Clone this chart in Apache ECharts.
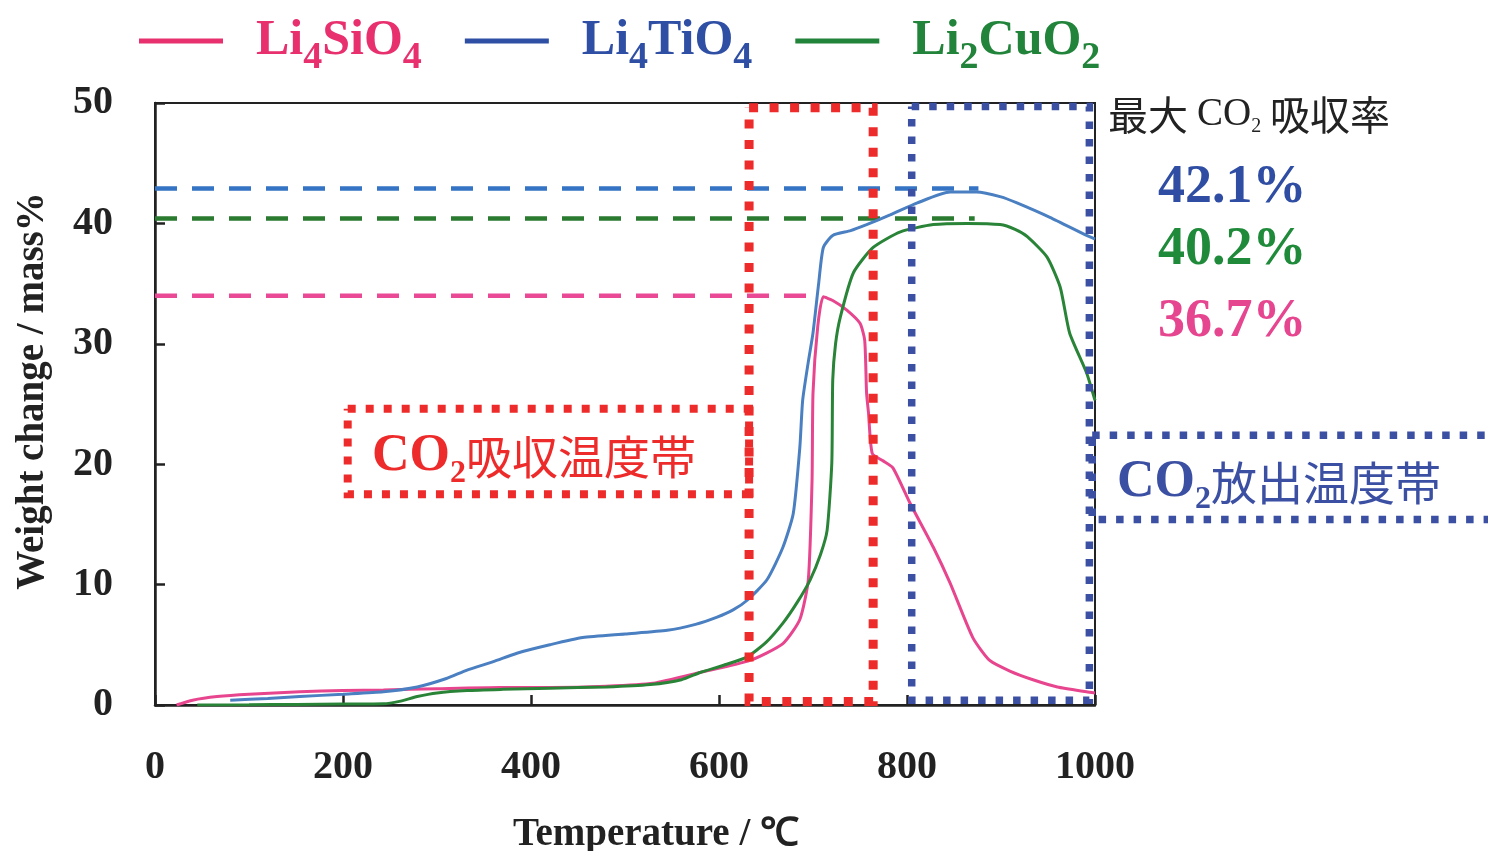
<!DOCTYPE html>
<html>
<head>
<meta charset="utf-8">
<script src="https://cdn.jsdelivr.net/npm/echarts@6/dist/echarts.min.js"></script>
<style>
html,body{margin:0;padding:0;background:#fff;}
#c{width:1488px;height:851px;}
</style>
</head>
<body>
<div id="c"></div>
<script>
// ---- data (temperature °C, weight change mass%) ----
const siT = [23, 40, 66, 100, 154, 200, 243, 300, 367, 420, 480, 530, 580, 633, 668, 686, 695, 699, 700, 705, 711, 721, 736, 750, 755, 757, 759, 763, 774, 785, 803, 828, 846, 870, 888, 910, 934, 960, 991, 1000];
const siW = [0, 0.4, 0.7, 0.9, 1.1, 1.2, 1.25, 1.35, 1.45, 1.45, 1.55, 1.8, 2.7, 3.7, 5.1, 7.1, 10.4, 18.7, 25.9, 31.4, 33.9, 33.6, 32.8, 31.7, 30.3, 25.9, 24.3, 20.9, 20.3, 19.7, 16.8, 13.1, 10.1, 5.6, 3.7, 2.8, 2.1, 1.5, 1.1, 1.0];

const tiT = [80, 120, 154, 200, 243, 279, 310, 332, 360, 385, 420, 455, 500, 545, 575, 598, 615, 630, 651, 668, 679, 686, 689, 695, 700, 706, 711, 721, 740, 757, 782, 811, 846, 874, 900, 917, 952, 991, 1000];
const tiW = [0.4, 0.55, 0.7, 0.9, 1.1, 1.5, 2.2, 2.9, 3.6, 4.3, 5.0, 5.6, 5.9, 6.2, 6.7, 7.3, 7.9, 8.7, 10.4, 13.1, 15.9, 21.4, 25.3, 28.5, 30.9, 35.0, 38.0, 39.0, 39.4, 39.9, 40.7, 41.7, 42.6, 42.6, 42.2, 41.7, 40.5, 39.0, 38.7];

const cuT = [45, 100, 150, 200, 243, 260, 279, 300, 332, 370, 420, 480, 527, 560, 580, 605, 630, 650, 668, 683, 697, 708, 715, 720, 721, 724, 729, 743, 764, 793, 828, 864, 899, 915, 928, 949, 963, 973, 991, 1000];
const cuW = [0, 0.02, 0.05, 0.08, 0.1, 0.3, 0.7, 1.0, 1.2, 1.3, 1.4, 1.5, 1.7, 2.1, 2.7, 3.3, 4.0, 5.2, 6.8, 8.5, 10.4, 12.5, 14.5, 20.1, 27.0, 30.0, 32.2, 35.9, 38.0, 39.3, 39.9, 40.0, 39.9, 39.5, 38.9, 37.2, 34.7, 30.9, 27.6, 25.3];

// maximum-level reference lines: [start T, end T, level]
const refTi = [0, 876, 42.9];
const refCu = [0, 872, 40.4];
const refSi = [0, 706, 34.0];

// temperature bands (T from, T to, W from, W to)
const absorbBand = [632, 764, 0.3, 49.6];
const absorbLabelBox = [205, 632, 17.5, 24.6];
const releaseBand = [805, 994, 0.4, 49.7];
const releaseLabelBox = [997, 1425, 15.4, 22.4];

const xTicks = [0, 200, 400, 600, 800, 1000];
const yTicks = [0, 10, 20, 30, 40, 50];

const seriesNames = ['Li4SiO4', 'Li4TiO4', 'Li2CuO2'];
const maxRates = ['42.1%', '40.2%', '36.7%'];

function pairs(t, w) { return t.map((v, i) => [v, w[i]]); }
function rect(b) { return [[b[0], b[3]], [b[1], b[3]], [b[1], b[2]], [b[0], b[2]], [b[0], b[3]]]; }
function ref(r) { return [[r[0], r[2]], [r[1], r[2]]]; }

const SERIF = '"Liberation Serif","Times New Roman",serif';
const CJK = '"Noto Sans CJK JP","Noto Sans CJK SC",sans-serif';

const C = {
  siLine: '#e8458f', tiLine: '#4a7fc1', cuLine: '#2a8438',
  siDash: '#ea4a95', tiDash: '#3574c4', cuDash: '#2a7a30',
  siLeg: '#e8306e', tiLeg: '#2f4fa5', cuLeg: '#22843a',
  red: '#ee2b2b', blueBox: '#3b4fa3'
};

function legRich() {
  const r = {};
  [['p', C.siLeg], ['b', C.tiLeg], ['g', C.cuLeg]].forEach(([k, col]) => {
    r['a' + k] = { fontFamily: SERIF, fontWeight: 'bold', fontSize: 50, lineHeight: 58, color: col };
    r['s' + k] = { fontFamily: SERIF, fontWeight: 'bold', fontSize: 38, lineHeight: 20, padding: [34, 0, 0, 0], color: col };
  });
  r.gap = { width: 28, fontSize: 10 };
  return r;
}

const legendParts = {
  'Li4SiO4': ['p', [['a', 'Li'], ['s', '4'], ['a', 'SiO'], ['s', '4']]],
  'Li4TiO4': ['b', [['a', 'Li'], ['s', '4'], ['a', 'TiO'], ['s', '4']]],
  'Li2CuO2': ['g', [['a', 'Li'], ['s', '2'], ['a', 'CuO'], ['s', '2']]]
};

const chart = echarts.init(document.getElementById('c'), null, { renderer: 'canvas' });

function curve(name, data, color) {
  return { name, type: 'line', data, showSymbol: false, symbol: 'none', smooth: 0.2,
    lineStyle: { color, width: 3 }, itemStyle: { color }, z: 3, animation: false };
}
function dash(name, data, color) {
  return { name, type: 'line', data, showSymbol: false, symbol: 'none',
    lineStyle: { color, width: 4.5, type: [22, 15] }, z: 2, animation: false, silent: true };
}
function box(name, data, color, w, gap) {
  return { name, type: 'line', data, showSymbol: false, symbol: 'none', clip: false,
    lineStyle: { color, width: w, type: [w, gap], cap: 'butt', join: 'miter' }, z: 4, animation: false, silent: true };
}

function coRich(color) {
  return {
    c: { fontFamily: SERIF, fontWeight: 'bold', fontSize: 52, lineHeight: 60, fill: color },
    s: { fontFamily: SERIF, fontWeight: 'bold', fontSize: 32, lineHeight: 20, padding: [34, 0, 0, 0], fill: color },
    k: { fontFamily: CJK, fontSize: 46, lineHeight: 60, fill: color }
  };
}

const option = {
  backgroundColor: '#fff',
  animation: false,
  grid: { left: 155, right: 393, top: 103, bottom: 146, containLabel: false, outerBoundsMode: 'none',
    show: true, borderColor: '#222', borderWidth: 2, backgroundColor: 'transparent' },
  legend: {
    left: 134, top: 0, itemWidth: 84, itemHeight: 5, itemGap: 43, icon: 'rect', selectedMode: false,
    data: seriesNames.map((n, i) => ({ name: n, itemStyle: { color: [C.siLeg, C.tiLeg, C.cuLeg][i] } })),
    formatter: function (name) {
      const p = legendParts[name];
      return '{gap| }' + p[1].map(t => '{' + t[0] + p[0] + '|' + t[1] + '}').join('');
    },
    textStyle: { rich: legRich(), fontFamily: SERIF, fontSize: 50 }
  },
  xAxis: {
    type: 'value', min: xTicks[0], max: xTicks[xTicks.length - 1], interval: 200,
    name: 'Temperature / ℃', nameLocation: 'middle', nameGap: 110,
    nameTextStyle: { fontFamily: SERIF, fontWeight: 'bold', fontSize: 39, color: '#222', padding: [0, 0, 0, 62] },
    axisLine: { show: true, lineStyle: { color: '#222', width: 2.5 } },
    axisTick: { show: true, inside: true, length: 10, lineStyle: { color: '#222', width: 2.5 } },
    axisLabel: { fontFamily: SERIF, fontWeight: 'bold', fontSize: 40, color: '#222', margin: 43, formatter: v => String(v) },
    splitLine: { show: false }
  },
  yAxis: {
    type: 'value', min: yTicks[0], max: yTicks[yTicks.length - 1], interval: 10,
    name: 'Weight change / mass%', nameLocation: 'middle', nameGap: 103,
    nameTextStyle: { fontFamily: SERIF, fontWeight: 'bold', fontSize: 39, color: '#222', padding: [0, 0, 0, 26] },
    axisLine: { show: true, lineStyle: { color: '#222', width: 2.5 } },
    axisTick: { show: true, inside: true, length: 10, lineStyle: { color: '#222', width: 2.5 } },
    axisLabel: { fontFamily: SERIF, fontWeight: 'bold', fontSize: 40, color: '#222', margin: 42 },
    splitLine: { show: false }
  },
  series: [
    dash('ref Li4TiO4', ref(refTi), C.tiDash),
    dash('ref Li2CuO2', ref(refCu), C.cuDash),
    dash('ref Li4SiO4', ref(refSi), C.siDash),
    curve('Li4SiO4', pairs(siT, siW), C.siLine),
    curve('Li2CuO2', pairs(cuT, cuW), C.cuLine),
    curve('Li4TiO4', pairs(tiT, tiW), C.tiLine),
    box('absorb band', rect(absorbBand), C.red, 9, 11.5),
    box('absorb label', rect(absorbLabelBox), C.red, 8, 10),
    box('release band', rect(releaseBand), C.blueBox, 7.5, 10)
  ],
  graphic: [
    { id: 'maxTitle', type: 'text', left: 1108, top: 95, z: 10, style: {
      text: '{k|最大 }{c|CO}{s|2}{k| 吸収率}',
      rich: {
        k: { fontFamily: CJK, fontSize: 40, lineHeight: 44, fill: '#222' },
        c: { fontFamily: SERIF, fontSize: 39, lineHeight: 44, fill: '#222' },
        s: { fontFamily: SERIF, fontSize: 20, lineHeight: 14, verticalAlign: 'bottom', fill: '#222' }
      } } },
    { id: 'r1', type: 'text', left: 1158, top: 161, z: 10, style: { text: maxRates[0], font: 'bold 54px ' + SERIF, fill: '#2f4ea3' } },
    { id: 'r2', type: 'text', left: 1158, top: 223, z: 10, style: { text: maxRates[1], font: 'bold 54px ' + SERIF, fill: '#1f8a3a' } },
    { id: 'r3', type: 'text', left: 1158, top: 295, z: 10, style: { text: maxRates[2], font: 'bold 54px ' + SERIF, fill: '#e6458f' } },
    { id: 'absorbTxt', type: 'text', left: 372, top: 424, z: 10, style: { text: '{c|CO}{s|2}{k|吸収温度帯}', rich: coRich(C.red) } },
    { id: 'releaseTxt', type: 'text', left: 1117, top: 450, z: 10, style: { text: '{c|CO}{s|2}{k|放出温度帯}', rich: coRich(C.blueBox) } }
  ]
};
chart.setOption(option);

// release label box extends beyond the plot: convert its data corners via the chart's scales
const relPts = rect(releaseLabelBox).map(p => chart.convertToPixel({ gridIndex: 0 }, p));
chart.setOption({
  graphic: [
    { id: 'releaseBox', type: 'polyline', z: 4, silent: true,
      shape: { points: relPts },
      style: { stroke: C.blueBox, lineWidth: 7.5, lineDash: [7.5, 10], fill: null, lineCap: 'butt', lineJoin: 'miter' } }
  ]
});
</script>
</body>
</html>
